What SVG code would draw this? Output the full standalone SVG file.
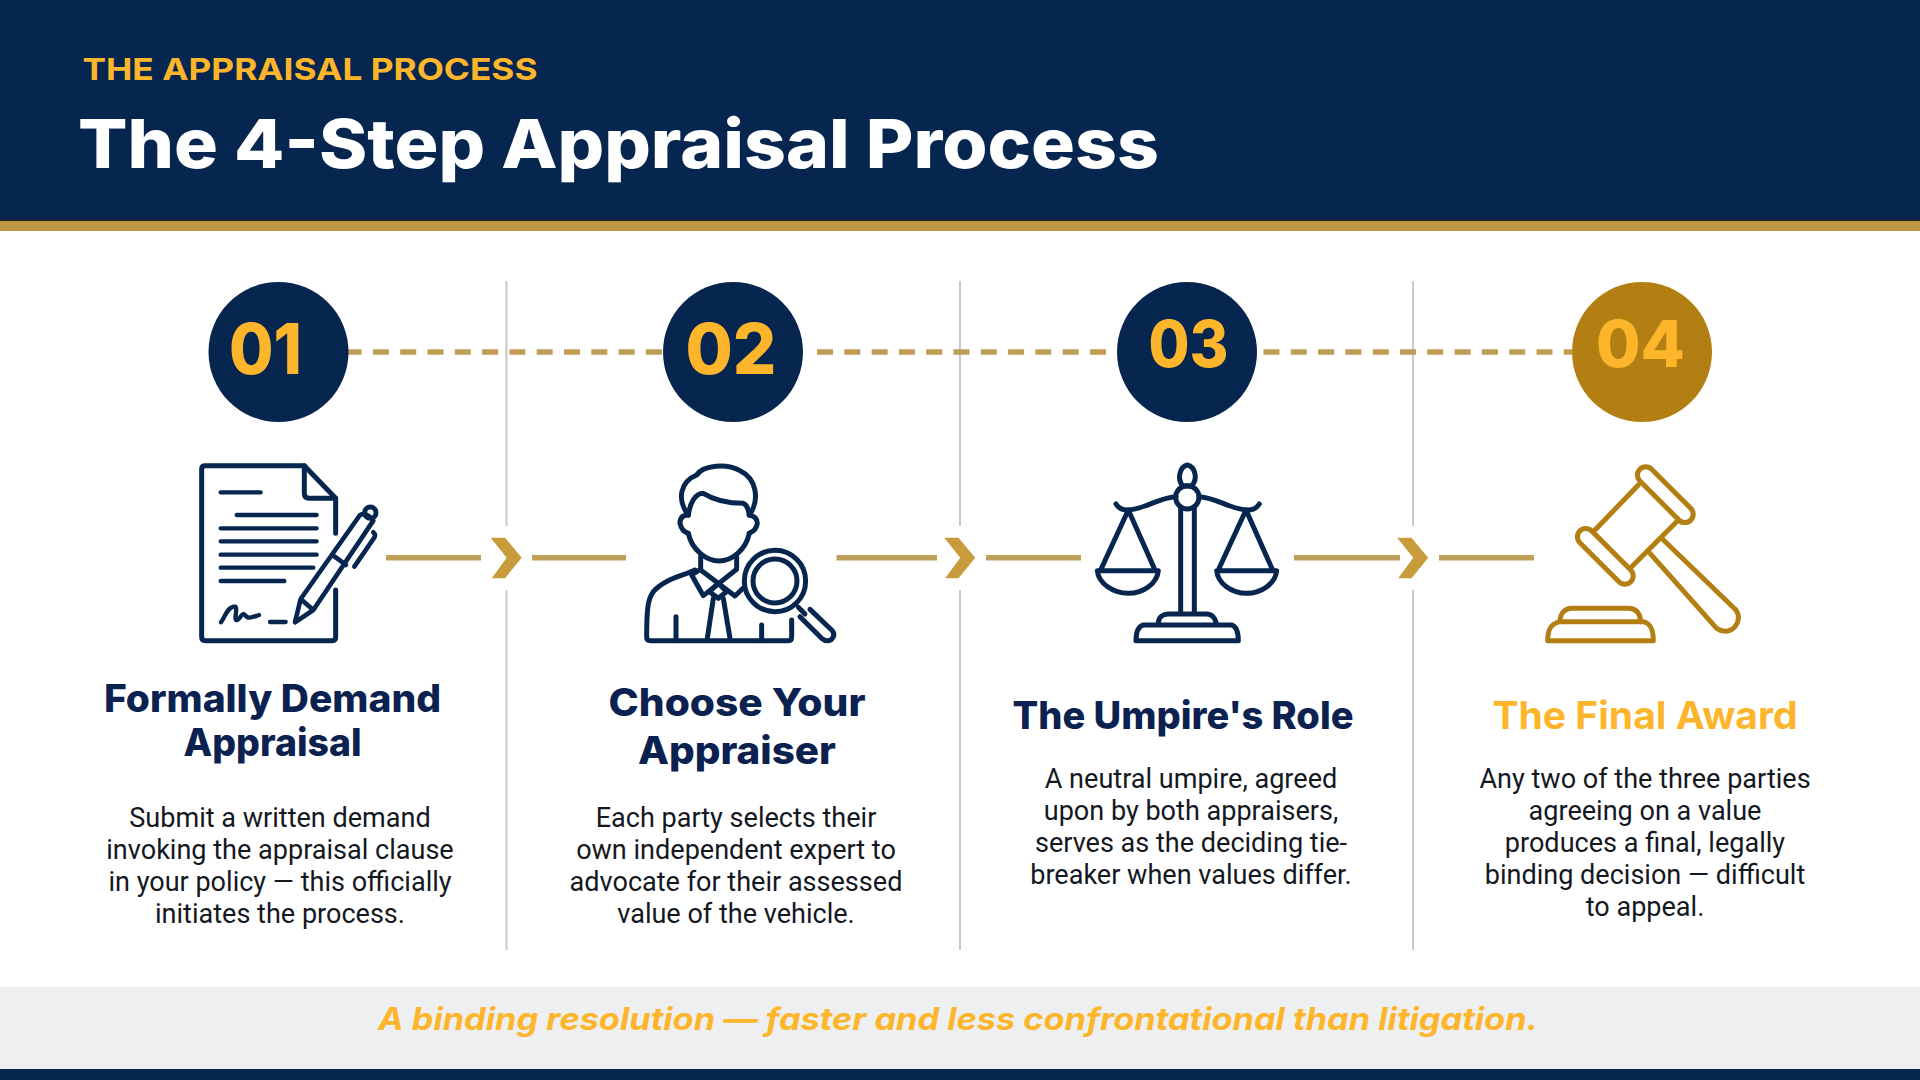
<svg xmlns="http://www.w3.org/2000/svg" width="1920" height="1080" viewBox="0 0 1920 1080">
<style>
.h{font-family:"Inter","Liberation Sans",sans-serif;font-weight:800}
.t{font-size:38px;fill:#0b2250;text-anchor:middle}
.b{font-family:"Roboto","Liberation Sans",sans-serif;font-size:27.05px;fill:#14181f;text-anchor:middle}
.n{font-size:70px;fill:#fdb62b}
.ic{fill:none;stroke:#06264f;stroke-width:15;stroke-linecap:round;stroke-linejoin:round}
.g{stroke:#b47f12}
.dash{fill:none;stroke:#c09d55;stroke-width:5.5;stroke-dasharray:16 11.3}
.sol{fill:none;stroke:#bfa05a;stroke-width:5.5}
.div{stroke:#c9c9c9;stroke-width:2;fill:none}
.chev{fill:#c89b3c}
</style>
<rect width="1920" height="1080" fill="#fff"/>
<g id="header">
<rect width="1920" height="219" fill="#06264f"/>
<rect y="219" width="1920" height="2.5" fill="#1f2530"/>
<rect y="221" width="1920" height="10" fill="#bf9844"/>
<text class="h" x="82.5" y="80" font-size="30" fill="#fdb62b" textLength="455" lengthAdjust="spacingAndGlyphs" style="font-weight:700">THE APPRAISAL PROCESS</text>
<text class="h" x="78" y="168" font-size="68" fill="#fff" textLength="1081" lengthAdjust="spacingAndGlyphs">The 4-Step Appraisal Process</text>
</g>
<g id="connectors">
<path class="div" d="M506.5 281V526M506.5 590V950M960 281V526M960 590V950M1413 281V526M1413 590V950"/>
<path class="dash" d="M348 352H663" stroke-dashoffset="2.4"/>
<path class="dash" d="M817 352H1117"/>
<path class="dash" d="M1263.5 352H1572"/>
<path class="sol" d="M386 557.7H481M532 557.7H626M836.5 557.7H937M986 557.7H1081M1294 557.7H1400M1439 557.7H1534"/>
<path id="c1" class="chev" d="M490.7 537.7H505L521.7 557.7L505 578.3H491.7L506.7 557.7Z"/>
<path id="c2" class="chev" d="M944.2 537.7H958.5L975.2 557.7L958.5 578.3H945.2L960.2 557.7Z"/>
<path id="c3" class="chev" d="M1397.2 537.7H1411.5L1428.2 557.7L1411.5 578.3H1398.2L1413.2 557.7Z"/>
</g>
<g id="step1">
<circle cx="278.5" cy="352" r="70" fill="#06264f"/>
<text class="h n" x="229" y="374" textLength="73" lengthAdjust="spacingAndGlyphs">01</text>
<g class="ic" transform="translate(170 440) scale(.3333)">
<path d="M497 280V175L403 77H105Q95 77 95 87V590Q95 602 107 602H487Q497 602 497 592V450"/>
<path d="M403 77V160Q403 175 418 175H497"/>
<path stroke-width="13" d="M152 157H272M200 225H440M152 265H440M152 304H440M152 344H440M152 383H430M152 423H343"/>
<path stroke-width="13" d="M153 547C165 530 175 497 195 500C205 503 190 540 200 540C210 540 215 515 225 525C235 540 250 530 267 525M300 546H347"/>
<path stroke-width="14" d="M375 547L392 477L570 225Q590 215 610 242L430 510ZM392 477L430 510M487 345L528 375M610 277Q620 285 610 297L553 380"/>
<circle cx="601" cy="218" r="17"/>
</g>
<text class="h t" x="272.5" y="711.5" textLength="337" lengthAdjust="spacingAndGlyphs">Formally Demand</text>
<text class="h t" x="272.5" y="756" textLength="178" lengthAdjust="spacingAndGlyphs">Appraisal</text>
<text class="b" x="280" y="826.5">Submit a written demand</text>
<text class="b" x="280" y="858.5">invoking the appraisal clause</text>
<text class="b" x="280" y="890.5">in your policy — this officially</text>
<text class="b" x="280" y="922.5">initiates the process.</text>
</g>
<g id="step2">
<circle cx="733" cy="352" r="70" fill="#06264f"/>
<text class="h n" x="685.5" y="374" textLength="91" lengthAdjust="spacingAndGlyphs">02</text>
<g class="ic" transform="translate(620 450) scale(.3333)">
<path d="M205 195C170 150 180 95 230 75C250 45 320 40 360 62C410 85 420 150 388 195"/>
<path d="M205 195C210 160 225 130 250 130C290 155 340 160 370 160C385 165 385 185 388 195"/>
<path d="M205 195Q180 195 180 220Q185 245 205 250M388 195Q412 200 412 220Q410 240 388 250"/>
<path d="M205 250C215 300 260 333 297 333C335 333 378 300 388 250"/>
<path d="M242 320V355M350 320V350"/>
<path d="M242 360L345 438L372 412M350 358L250 437L215 375L235 362"/>
<path d="M268 425L295 400L320 425L295 445ZM280 445L262 565M310 445L330 565"/>
<path d="M225 360C190 378 135 385 100 425C85 445 80 470 80 560Q80 572 92 572H505Q515 572 515 560V510"/>
<path d="M168 500V570M425 525V570"/>
<circle cx="465" cy="393" r="92"/>
<circle cx="465" cy="393" r="66"/>
<path d="M535 472L555 492M570 478L635 540Q648 555 635 568Q620 578 605 565L540 500"/>
</g>
<text class="h t" x="737" y="715.5" textLength="257" lengthAdjust="spacingAndGlyphs">Choose Your</text>
<text class="h t" x="737" y="763.5" textLength="198" lengthAdjust="spacingAndGlyphs">Appraiser</text>
<text class="b" x="736" y="826.5">Each party selects their</text>
<text class="b" x="736" y="858.5">own independent expert to</text>
<text class="b" x="736" y="890.5">advocate for their assessed</text>
<text class="b" x="736" y="922.5">value of the vehicle.</text>
</g>
<g id="step3">
<circle cx="1187" cy="352" r="70" fill="#06264f"/>
<text class="h n" x="1148.5" y="367" textLength="80" lengthAdjust="spacingAndGlyphs" style="font-size:64px">03</text>
<g class="ic" transform="translate(1080 450) scale(.3333)">
<path d="M322 45C345 50 355 85 335 108H308C290 85 300 50 322 45Z"/>
<circle cx="322" cy="142" r="35"/>
<path d="M108 162C125 190 160 180 195 168C230 155 260 140 288 140M538 162C520 190 485 180 450 168C415 155 385 140 357 140"/>
<path d="M302 175V490M343 175V490"/>
<path d="M145 180L62 360M145 180L225 360M52 362H235C232 400 190 430 145 430C100 430 55 400 52 362Z"/>
<path d="M498 180L415 360M498 180L578 360M410 362H590C587 400 545 430 500 430C455 430 413 400 410 362Z"/>
<path d="M235 520C235 500 250 492 265 492H380C395 492 408 505 408 522"/>
<path d="M190 525H455C470 530 475 550 475 572H168C168 545 175 530 190 525Z"/>
</g>
<text class="h t" x="1183" y="729" textLength="341" lengthAdjust="spacingAndGlyphs">The Umpire's Role</text>
<text class="b" x="1191" y="787.5">A neutral umpire, agreed</text>
<text class="b" x="1191" y="819.5">upon by both appraisers,</text>
<text class="b" x="1191" y="851.5">serves as the deciding tie-</text>
<text class="b" x="1191" y="883.5">breaker when values differ.</text>
</g>
<g id="step4">
<circle cx="1642" cy="352" r="70" fill="#b47f12"/>
<text class="h n" x="1596" y="367" textLength="89" lengthAdjust="spacingAndGlyphs" style="font-size:64px">04</text>
<g class="ic g" transform="translate(1510 450) scale(.3333)">
<rect x="358" y="109" width="216" height="50" rx="25" transform="rotate(45 466 134)"/>
<rect x="178" y="294" width="216" height="50" rx="25" transform="rotate(45 286 319)"/>
<path d="M385 105L255 240M500 215L365 350"/>
<path d="M458 268L678 480Q695 505 675 530Q650 555 620 535L418 308"/>
<path d="M150 515C150 490 165 475 185 475H355C380 475 390 490 392 515"/>
<path d="M150 515H400C420 520 430 535 430 572H113C113 535 125 520 150 515Z"/>
</g>
<text class="h t" x="1645" y="729" textLength="305" lengthAdjust="spacingAndGlyphs" style="fill:#fdb62b;font-weight:700">The Final Award</text>
<text class="b" x="1645" y="787.5">Any two of the three parties</text>
<text class="b" x="1645" y="819.5">agreeing on a value</text>
<text class="b" x="1645" y="851.5">produces a final, legally</text>
<text class="b" x="1645" y="883.5">binding decision — difficult</text>
<text class="b" x="1645" y="915.5">to appeal.</text>
</g>
<g id="footer">
<rect y="987" width="1920" height="82" fill="#eeeff1"/>
<rect y="1069" width="1920" height="11" fill="#06264f"/>
<text class="h" x="378" y="1030" font-size="31" font-style="italic" fill="#fdb62b" textLength="1160" lengthAdjust="spacingAndGlyphs" style="font-weight:700">A binding resolution — faster and less confrontational than litigation.</text>
</g>
</svg>
